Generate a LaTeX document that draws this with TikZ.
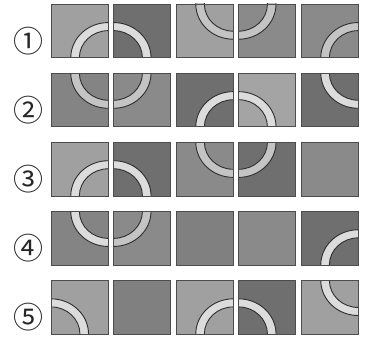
\documentclass[tikz,border=0pt]{standalone}
\usepackage{fontspec}
\newfontfamily\cjk{Noto Sans CJK JP}
\definecolor{tL}{HTML}{A0A0A0}
\definecolor{tL2}{HTML}{A4A4A4}
\definecolor{tM}{HTML}{8A8A8A}
\definecolor{tM2}{HTML}{848484}
\definecolor{tM3}{HTML}{808080}
\definecolor{tD}{HTML}{6F6F6F}
\definecolor{rL}{HTML}{DCDCDC}
\definecolor{rG}{HTML}{C4C4C4}
\definecolor{lineC}{HTML}{2E2E2E}
\tikzset{
  ringline/.style={draw=lineC, line width=0.9pt},
  tileline/.style={draw=lineC!85!white, line width=0.8pt},
  numlabel/.style={font=\cjk\fontsize{30}{30}\selectfont, inner sep=0pt, text=black!85}
}
% #1 col, #2 row, #3 bg, #4 centre corner (or empty), #5 ring colour
\newcommand\drawtile[5]{%
  \begin{scope}[shift={(51+62.5*#1,4+69.07*#2)}, x=57.3pt, y=-53.8pt]
    \fill[#3] (0,0) rectangle (1,1);
    \if\relax\detokenize{#4}\relax\else
    \begin{scope}
      \clip (0,0) rectangle (1,1);
      \fill[#5, even odd rule] #4 circle[radius=0.655] #4 circle[radius=0.505];
      \draw[ringline] #4 circle[radius=0.655] #4 circle[radius=0.505];
    \end{scope}
    \fi
    \draw[tileline] (0,0) rectangle (1,1);
  \end{scope}}
\begin{document}
\begin{tikzpicture}[x=1pt,y=-1pt]
\useasboundingbox (0,0) rectangle (369,337);
\fill[white] (0,0) rectangle (369,337);
% row 1
\drawtile{0}{0}{tL}{(1,1)}{rL}
\drawtile{1}{0}{tD}{(0,1)}{rL}
\drawtile{2}{0}{tL}{(1,0)}{rG}
\drawtile{3}{0}{tM}{(0,0)}{rG}
\drawtile{4}{0}{tM}{(1,1)}{rG}
% row 2
\drawtile{0}{1}{tM2}{(1,0)}{rG}
\drawtile{1}{1}{tM}{(0,0)}{rG}
\drawtile{2}{1}{tD}{(1,1)}{rL}
\drawtile{3}{1}{tL2}{(0,1)}{rL}
\drawtile{4}{1}{tD}{(1,0)}{rL}
% row 3
\drawtile{0}{2}{tL}{(1,1)}{rL}
\drawtile{1}{2}{tD}{(0,1)}{rL}
\drawtile{2}{2}{tM}{(1,0)}{rG}
\drawtile{3}{2}{tD}{(0,0)}{rG}
\drawtile{4}{2}{tM}{}{rL}
% row 4
\drawtile{0}{3}{tM2}{(1,0)}{rL}
\drawtile{1}{3}{tM}{(0,0)}{rG}
\drawtile{2}{3}{tM3}{}{rL}
\drawtile{3}{3}{tM}{}{rL}
\drawtile{4}{3}{tD}{(1,1)}{rL}
% row 5
\drawtile{0}{4}{tL}{(0,1)}{rL}
\drawtile{1}{4}{tM3}{}{rL}
\drawtile{2}{4}{tL}{(1,1)}{rL}
\drawtile{3}{4}{tD}{(0,1)}{rL}
\drawtile{4}{4}{tL}{(1,0)}{rL}
% numbers
\node[numlabel] (n1) at (28,41) {①};
\node[numlabel] (n2) at (28,110) {②};
\node[numlabel] (n3) at (28,179) {③};
\node[numlabel] (n4) at (28,248) {④};
\node[numlabel] (n5) at (28,317) {⑤};
\end{tikzpicture}
\end{document}
